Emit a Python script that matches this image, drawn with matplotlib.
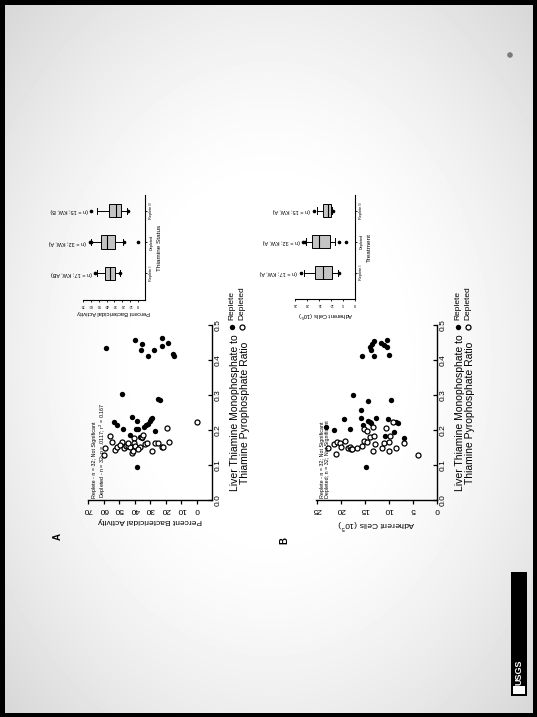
import numpy as np
import matplotlib
matplotlib.use("Agg")
import matplotlib.pyplot as plt
from matplotlib.patches import Rectangle, Circle

plt.rcParams['font.family'] = ['Liberation Sans', 'DejaVu Sans']

# ---------------- data ----------------
# Panel A scatter: (ratio, percent bactericidal activity)
ratioA_rep = [0.435, 0.457, 0.446, 0.429, 0.429, 0.412, 0.462, 0.441, 0.449, 0.417, 0.412,
              0.303, 0.289, 0.286, 0.224, 0.215, 0.236, 0.227, 0.202, 0.202, 0.204, 0.186,
              0.180, 0.178, 0.209, 0.214, 0.217, 0.232, 0.234, 0.227, 0.198, 0.095]
bactA_rep = [58.6, 39.8, 35.5, 36.0, 27.6, 31.3, 22.3, 22.3, 18.4, 15.6, 14.6,
             48.0, 24.8, 23.6, 53.1, 51.6, 41.9, 38.5, 47.5, 39.2, 38.1, 43.0,
             36.4, 35.5, 33.8, 32.8, 31.7, 29.5, 28.7, 30.0, 27.0, 38.7]
ratioA_dep = [0.129, 0.148, 0.183, 0.167, 0.143, 0.151, 0.167, 0.148, 0.154, 0.154, 0.152,
              0.133, 0.141, 0.176, 0.164, 0.154, 0.152, 0.181, 0.186, 0.160, 0.164, 0.141,
              0.162, 0.164, 0.151, 0.151, 0.205, 0.167, 0.224, 0.164, 0.145, 0.157]
bactA_dep = [59.7, 59.1, 55.7, 54.4, 52.7, 51.4, 48.4, 46.7, 45.6, 44.5, 43.0,
             41.9, 41.3, 40.7, 40.3, 39.8, 36.4, 35.5, 34.5, 33.4, 32.3, 29.1,
             27.0, 25.3, 22.3, 22.0, 19.5, 18.0, 0.2, 44.1, 37.7, 49.5]

# Panel B scatter: (ratio, adherent cells x10^5)
ratioB_rep = [0.455, 0.446, 0.429, 0.411, 0.411, 0.448, 0.443, 0.457, 0.438, 0.414, 0.438,
              0.300, 0.284, 0.286, 0.210, 0.200, 0.231, 0.203, 0.257, 0.233, 0.213,
              0.227, 0.221, 0.222, 0.233, 0.231, 0.224, 0.221, 0.195, 0.183, 0.176, 0.095]
cellsB_rep = [13.1, 13.6, 13.75, 13.1, 15.6, 11.7, 11.0, 10.5, 10.5, 10.1, 13.9,
              17.4, 14.3, 9.6, 23.1, 21.5, 19.4, 18.1, 15.9, 15.9, 15.4,
              14.3, 13.8, 14.0, 12.7, 10.3, 8.6, 8.2, 8.9, 10.8, 6.9, 14.8]
ratioB_dep = [0.148, 0.131, 0.160, 0.167, 0.164, 0.152, 0.169, 0.150, 0.152, 0.145, 0.154,
              0.169, 0.167, 0.202, 0.198, 0.179, 0.141, 0.183, 0.210, 0.150, 0.162, 0.207,
              0.141, 0.167, 0.224, 0.150, 0.162, 0.130, 0.149, 0.160, 0.183, 0.145]
cellsB_dep = [22.8, 21.1, 21.4, 20.8, 20.1, 19.9, 19.2, 18.6, 18.1, 17.9, 15.6,
              15.3, 14.6, 15.3, 14.6, 14.0, 13.3, 13.1, 13.4, 11.4, 11.1, 10.7,
              10.1, 9.9, 9.1, 8.6, 6.8, 4.0, 16.7, 12.9, 9.8, 17.8]

# Box plots (inset): Replete I, Depleted, Replete II
groups = ["Replete I", "Depleted", "Replete II"]
boxA_whislo = [23.3, 19.0, 13.8]
boxA_q1 = [29.0, 29.0, 21.2]
boxA_med = [35.4, 39.8, 27.7]
boxA_q3 = [41.5, 46.7, 36.3]
boxA_whishi = [52.7, 59.2, 52.7]
boxA_fliers = [[54.5, 22.3], [61.5, 60.3, 18.0, 0.0], [59.2, 13.0]]
boxA_notes = ["(n = 17; KW, AB)", "(n = 32; KW, A)", "(n = 15; KW, B)"]

boxB_whislo = [6.9, 8.3, 9.4]
boxB_q1 = [9.4, 10.3, 10.0]
boxB_med = [13.5, 14.9, 11.4]
boxB_q3 = [16.7, 18.1, 13.2]
boxB_whishi = [21.25, 20.6, 16.0]
boxB_fliers = [[22.6, 6.6], [21.6, 20.9, 6.7, 3.9], [17.1, 9.2]]
boxB_notes = ["(n = 17; KW, A)", "(n = 32; KW, A)", "(n = 15; KW, A)"]

bact_ticks = [0, 10, 20, 30, 40, 50, 60, 70]
cell_ticks = [0, 5, 10, 15, 20, 25]
ratio_ticks = [0.0, 0.1, 0.2, 0.3, 0.4, 0.5]

# ---------------- figure ----------------
W, H = 537, 717
fig = plt.figure(figsize=(W / 100, H / 100), dpi=100)


def rect(x0, y0, x1, y1):
    return [x0 / W, 1 - y1 / H, (x1 - x0) / W, (y1 - y0) / H]


bg = fig.add_axes([0, 0, 1, 1], zorder=0)
yy, xx = np.mgrid[0:H, 0:W]
r = np.sqrt(((xx - W * 0.5) / (W * 0.55)) ** 2 + ((yy - H * 0.5) / (H * 0.55)) ** 2)
val = 1.0 - 0.2 * np.clip(r - 0.42, 0, 2) ** 1.4
bg.imshow(val, cmap='gray', vmin=0, vmax=1, extent=(0, W, H, 0), aspect='auto',
          interpolation='bilinear')
bg.set_xlim(0, W)
bg.set_ylim(H, 0)
bg.axis('off')
for (x, y, w, h) in [(0, 0, W, 5), (0, 0, 5, H), (W - 4, 0, 4, H), (0, H - 4, W, 4)]:
    bg.add_patch(Rectangle((x, y), w, h, color='black', lw=0))
bg.add_patch(Circle((510, 55), 2.8, color='#7a7a7a', lw=0))

# USGS logo
logo = np.linspace(0, 1, 120)[:, None] * np.ones((1, 16))
bg.add_patch(Rectangle((511, 572), 16, 124, color='black', lw=0))
bg.imshow(np.dstack([0.15 + 0.2 * logo, 0.25 + 0.3 * logo, 0.45 + 0.35 * logo]) *
          (np.linspace(0, 1, 16)[None, :, None] > 0.45), extent=(511, 527, 650, 600),
          aspect='auto')
bg.text(519, 672, "USGS", rotation=90, color='white', fontsize=6.5, fontweight='bold',
        ha='center', va='center')
bg.add_patch(Rectangle((513, 686), 12, 8, color='white', lw=0))
bg.set_xlim(0, W)
bg.set_ylim(H, 0)


def scatter_panel(box_px, yrep, xrep, ydep, xdep, xlim, xticks, xlabel, note, lp):
    ax = fig.add_axes(rect(*box_px), zorder=2)
    ax.patch.set_alpha(0)
    ax.scatter(xrep, yrep, s=15, c='black', lw=0, zorder=3)
    ax.scatter(xdep, ydep, s=13, facecolors='white', edgecolors='black', lw=0.9, zorder=3)
    ax.set_xlim(*xlim)
    ax.set_ylim(0, 0.5)
    for s in ['left', 'top']:
        ax.spines[s].set_visible(False)
    for s in ['bottom', 'right']:
        ax.spines[s].set_linewidth(1.0)
    ax.set_xticks(xticks)
    ax.set_xticklabels([str(t) for t in xticks], rotation=180, fontsize=6)
    ax.tick_params(axis='x', direction='out', length=3, width=0.9, pad=1.5)
    ax.yaxis.tick_right()
    ax.yaxis.set_label_position('right')
    ax.set_yticks(ratio_ticks)
    ax.set_yticklabels(["%.1f" % t for t in ratio_ticks], rotation=90, fontsize=6, va='center')
    ax.tick_params(axis='y', direction='in', length=3, width=0.9, pad=2)
    ax.set_xlabel(xlabel, rotation=180, fontsize=6, labelpad=3)
    ax.set_ylabel("Liver Thiamine Monophosphate to\nThiamine Pyrophosphate Ratio",
                  rotation=90, fontsize=7.5, labelpad=lp, linespacing=1.0)
    ax.text(0.035, 0.01, note, rotation=90, fontsize=3.9, ha='left', va='bottom',
            transform=ax.transAxes, linespacing=1.05)
    return ax


scatter_panel((88, 325, 212, 500), ratioA_rep, bactA_rep, ratioA_dep, bactA_dep,
              (70, -9.6), bact_ticks, "Percent Bactericidal Activity",
              "Replete - n = 32; Not Significant\nDepleted - n = 32; p = .0117; r$^2$ = 0.167", 6)
scatter_panel((316, 325, 437, 500), ratioB_rep, cellsB_rep, ratioB_dep, cellsB_dep,
              (25.2, 0), cell_ticks, "Adherent Cells (10$^5$)",
              "Replete - n = 32; Not Significant\nDepleted; n = 32; Not Significant", 6)


def box_panel(box_px, whislo, q1, med, q3, whishi, fliers, notes, xlim, xticks, xlabel, clabel):
    ax = fig.add_axes(rect(*box_px), zorder=2)
    ax.patch.set_alpha(0)
    stats = []
    for i in range(3):
        stats.append(dict(whislo=whislo[i], q1=q1[i], med=med[i], q3=q3[i], whishi=whishi[i],
                          fliers=fliers[i], label=groups[i]))
    ax.bxp(stats, positions=[1, 2, 3], widths=0.42, orientation='horizontal',
           patch_artist=True,
           boxprops=dict(facecolor='#c4c4c4', edgecolor='black', lw=0.7),
           medianprops=dict(color='black', lw=0.8),
           whiskerprops=dict(color='black', lw=0.7),
           capprops=dict(color='black', lw=0.7),
           flierprops=dict(marker='o', ms=1.6, mfc='black', mec='black', lw=0),
           capwidths=0.2)
    ax.set_xlim(*xlim)
    ax.set_ylim(0.15, 3.5)
    for s in ['left', 'top']:
        ax.spines[s].set_visible(False)
    for s in ['bottom', 'right']:
        ax.spines[s].set_linewidth(0.8)
    ax.set_xticks(xticks)
    ax.set_xticklabels([str(t) for t in xticks], rotation=180, fontsize=2.8)
    ax.tick_params(axis='x', direction='out', length=1.5, width=0.6, pad=1)
    ax.yaxis.tick_right()
    ax.yaxis.set_label_position('right')
    ax.set_yticks([1, 2, 3])
    ax.set_yticklabels(groups, rotation=90, fontsize=2.8, va='center')
    ax.tick_params(axis='y', direction='out', length=1.5, width=0.6, pad=1.5)
    ax.set_xlabel(xlabel, rotation=180, fontsize=4.2, labelpad=2)
    ax.set_ylabel(clabel, rotation=90, fontsize=4.6, labelpad=3)
    for i in range(3):
        top = max([whishi[i]] + list(fliers[i]))
        ax.annotate(notes[i], xy=(top, i + 1), xytext=(-2.5, 0), textcoords='offset points',
                    rotation=180, fontsize=4.0, ha='right', va='center')
    return ax


box_panel((83, 195, 145, 300), boxA_whislo, boxA_q1, boxA_med, boxA_q3, boxA_whishi,
          boxA_fliers, boxA_notes, (70, -9), bact_ticks, "Percent Bactericidal Activity",
          "Thiamine Status")
box_panel((295, 195, 355, 299), boxB_whislo, boxB_q1, boxB_med, boxB_q3, boxB_whishi,
          boxB_fliers, boxB_notes, (25, 0), cell_ticks, "Adherent Cells (10$^5$)",
          "Treatment")

# legends (rotated)
bg.scatter([232], [327], s=15, c='black', lw=0, zorder=5)
bg.scatter([241.5], [327], s=13, facecolors='white', edgecolors='black', lw=0.9, zorder=5)
bg.text(232, 320, "Replete", rotation=90, fontsize=6, ha='center', va='bottom')
bg.text(241.5, 320, "Depleted", rotation=90, fontsize=6, ha='center', va='bottom')
bg.scatter([458], [327], s=15, c='black', lw=0, zorder=5)
bg.scatter([467.5], [327], s=13, facecolors='white', edgecolors='black', lw=0.9, zorder=5)
bg.text(458, 320, "Replete", rotation=90, fontsize=6, ha='center', va='bottom')
bg.text(467.5, 320, "Depleted", rotation=90, fontsize=6, ha='center', va='bottom')

bg.text(58, 537, "A", rotation=90, fontsize=7, fontweight='bold', ha='center', va='center')
bg.text(284, 540, "B", rotation=90, fontsize=7, fontweight='bold', ha='center', va='center')

fig.savefig("out.png", dpi=100)
